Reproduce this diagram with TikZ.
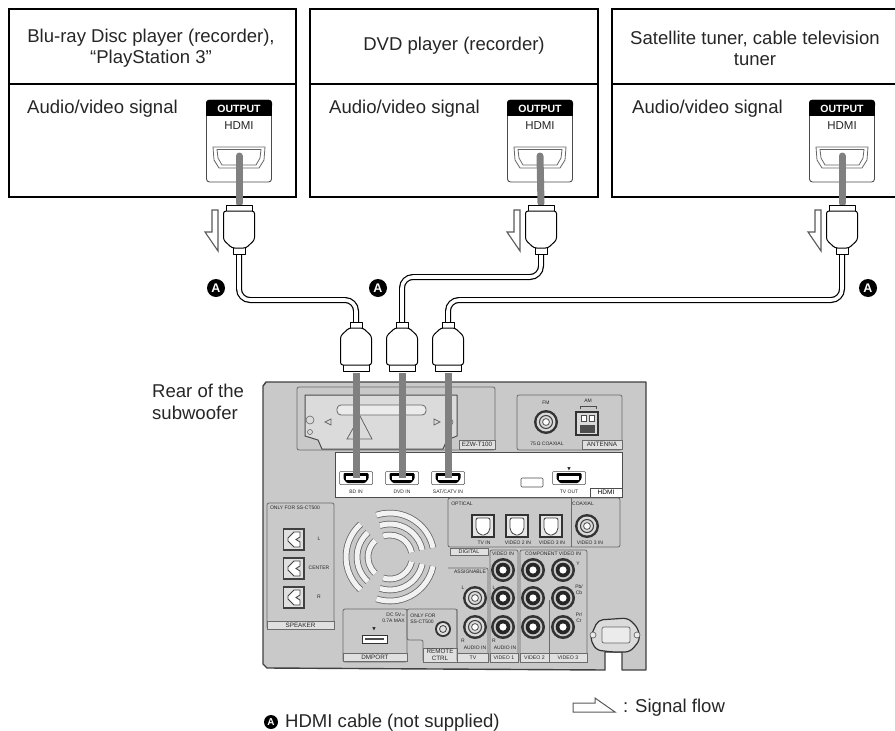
\documentclass[tikz,border=0pt]{standalone}
\usepackage{fontspec}
\setmainfont{Liberation Sans}
\newfontfamily\djv{DejaVu Sans}
\usetikzlibrary{calc}
\definecolor{panelgray}{gray}{0.79}
\definecolor{stubgray}{gray}{0.50}
\definecolor{linegray}{gray}{0.42}
\tikzset{
  devbox/.style={draw=black,line width=2.4pt,rectangle,inner sep=0pt,minimum height=188pt},
  divider/.style={draw=black,line width=1.4pt},
  bigtxt/.style={font=\fontsize{18.55}{21.3}\selectfont,text=black!85,align=center,inner sep=0pt},
  cable/.style={draw=black,line width=1.2pt,double=white,double distance=3.6pt,rounded corners=11pt},
  stub/.style={draw=stubgray,line width=7pt},
  plugline/.style={draw=black,line width=1pt,fill=white,line join=round},
  flowarrow/.style={draw=black!65,line width=1.1pt,fill=white,line join=miter},
  badgeA/.style={circle,fill=black,text=white,inner sep=0pt,minimum size=18pt,font=\fontsize{12.5}{12.5}\bfseries\selectfont},
  tiny/.style={font=\fontsize{5}{5.8}\selectfont,text=black!85,inner sep=0pt,align=center},
  region/.style={draw=linegray,line width=.8pt,rounded corners=2pt},
  tabbox/.style={draw=linegray,line width=.8pt,fill=black!12,inner sep=0pt,font=\fontsize{6.3}{6.6}\selectfont,text=black!85},
  vidtab/.style={tabbox,font=\fontsize{5.2}{5.2}\selectfont},
}
\newcommand\outbadge[2]{
  \begin{scope}[shift={(#2,0)}]
    \node[draw=black!70,line width=.9pt,fill=white,rounded corners=3pt,minimum width=65pt,minimum height=82pt,inner sep=0pt] (#1) at (0,141) {};
    \fill[black,rounded corners=3pt] (-33,100) rectangle (33,109);
    \fill[black] (-33,105) rectangle (33,116);
    \node[font=\fontsize{10.5}{10.5}\bfseries\selectfont,text=white,inner sep=0pt] (#1t) at (0,108.5) {OUTPUT};
    \node[font=\fontsize{11.5}{11.5}\selectfont,text=black!85,inner sep=0pt] (#1h) at (0,126) {HDMI};
    \draw[black!60,line width=.8pt,line join=round] (-26,147) -- (26,147) -- (25,160) -- (20,168) -- (-20,168) -- (-25,160) -- cycle;
    \draw[black!60,line width=.8pt,line join=round] (-22,149.5) -- (22,149.5) -- (21,158) -- (17,165) -- (-17,165) -- (-21,158) -- cycle;
    \coordinate (#1p) at (0,156);
  \end{scope}
}
\newcommand\hdmiplug[4]{
  \begin{scope}[shift={(#2,#3)},yscale=#4]
    \draw[plugline] (-13,0) -- (13,0) -- (13,7) -- (-13,7) -- cycle;
    \draw[plugline] (-6,41) rectangle (6,49);
    \draw[plugline,rounded corners=2.5pt] (-15.5,6) -- (15.5,6) -- (15.5,35) -- (7,43) -- (-7,43) -- (-15.5,35) -- cycle;
    \coordinate (#1top) at (0,0);
    \coordinate (#1neck) at (0,48);
  \end{scope}
}
\newcommand\sigarrow[1]{
  \draw[flowarrow] (#1,210) -- (#1+6,210) -- (#1+6,251) -- (#1-7,232) -- (#1,232) -- cycle;
}
\newcommand\hdmiport[4]{
  \node[inner sep=0pt,minimum width=33pt,minimum height=13pt,draw=black!70,line width=.5pt,fill=white,rounded corners=1pt] (#1) at (#2,#3) {};
  \fill[black,rounded corners=1pt] (#2-12.5,#3-5) -- (#2+12.5,#3-5) -- (#2+12.5,#3+1) -- (#2+9,#3+5) -- (#2-9,#3+5) -- (#2-12.5,#3+1) -- cycle;
  \fill[white] (#2-10,#3-2) rectangle (#2+10,#3+1.5);
  \node[tiny] (#1l) at (#2,#3+14) {#4};
}
\newcommand\optport[2]{
  \draw[black!80,line width=1.4pt,fill=black!10] (#1-11,515) rectangle (#1+11,537);
  \draw[black!75,line width=.8pt,fill=white,rounded corners=2pt] (#1-7,518) -- (#1+7,518) -- (#1+7,530) -- (#1+3,535) -- (#1-3,535) -- (#1-7,530) -- cycle;
  \node[tiny] at (#1+1,543) {#2};
}
\newcommand\rca[2]{
  \fill[black!80] (#1,#2) circle (12);
  \fill[black!22] (#1,#2) circle (9.3);
  \fill[black!85] (#1,#2) circle (7.3);
  \fill[white] (#1,#2) circle (3.6);
}
\newcommand\coax[2]{
  \fill[black!80] (#1,#2) circle (12);
  \fill[black!15] (#1,#2) circle (9.5);
  \draw[black!75,line width=1pt] (#1,#2) circle (6.5);
  \fill[white] (#1,#2) circle (3.4);
  \draw[black!75,line width=.7pt] (#1,#2) circle (3.4);
}
\newcommand\spkterm[2]{
  \draw[black!75,line width=1.5pt,fill=black!12] (283.5,#1) rectangle (304,#1+21);
  \fill[white] (288,#1+9) -- (294,#1+3) -- (300,#1+3) -- (300,#1+8) -- (296,#1+10.5) -- (300,#1+13) -- (300,#1+18) -- (294,#1+18) -- (288,#1+12) -- cycle;
  \draw[black!75,line width=.8pt] (288,#1+9) -- (294,#1+3) -- (300,#1+3) -- (300,#1+8) -- (296,#1+10.5) -- (300,#1+13) -- (300,#1+18) -- (294,#1+18) -- (288,#1+12) -- cycle;
  \node[tiny] at (319,#1+10) {#2};
}
\begin{document}
\begin{tikzpicture}[x=1pt,y=-1pt]
\useasboundingbox (0,0) rectangle (895,731);
% ---------- device boxes
\node[devbox,minimum width=287pt] (box1) at (152.5,103) {};
\node[devbox,minimum width=288pt] (box2) at (454,103) {};
\node[devbox,minimum width=290pt] (box3) at (757,103) {};
\coordinate (dv) at (0,84);
\draw[divider] (box1.west |- dv) -- (box1.east |- dv);
\draw[divider] (box2.west |- dv) -- (box2.east |- dv);
\draw[divider] (box3.west |- dv) -- (box3.east |- dv);
\node[bigtxt] (t1) at (151,48.5) {Blu-ray Disc player (recorder),\\“PlayStation 3”};
\node[bigtxt] (t2) at (454,46) {DVD player (recorder)};
\node[bigtxt] (t3) at (755,48.5) {Satellite tuner, cable television\\tuner};
\node[bigtxt,anchor=base west] (s1) at (27,113) {Audio/video signal};
\node[bigtxt,anchor=base west] (s2) at (329,113) {Audio/video signal};
\node[bigtxt,anchor=base west] (s3) at (632,113) {Audio/video signal};
\outbadge{o1}{239}
\outbadge{o2}{540}
\outbadge{o3}{842}
% ---------- rear panel
\draw[draw=black!75,line width=1.4pt,fill=panelgray,line join=round]
  (266,382) -- (646,382) -- (646,670) -- (622,670) -- (622,652) -- (605,652) -- (605,670)
  -- (267,668) -- (263,664) -- (263,386) -- cycle;
% EZW slot
\draw[region] (297,387) rectangle (495,450);
\draw[black!70,line width=1pt,fill=black!14,line join=round] (305,395) -- (457,395) -- (457,436) -- (447,440) -- (443,449) -- (322,449) -- (318,440) -- (305,436) -- cycle;
\draw[black!60,line width=.8pt,rounded corners=4pt,fill=black!8] (337,405) rectangle (426,415);
\draw[black!60,line width=.8pt] (360,416) -- (347,439) -- (372,439) -- cycle;
\draw[black!60,line width=.7pt] (331,419) -- (325,422) -- (331,425) -- cycle;
\draw[black!60,line width=.7pt] (434,419) -- (440,422) -- (434,425) -- cycle;
\draw[black!60,line width=.6pt] (310,420) circle (4) (310,432) circle (2.5) (450,422) circle (3);
\node[tabbox,minimum width=36pt,minimum height=9pt] (ezw) at (477,444.5) {EZW-T100};
% antenna
\draw[region] (517,395) rectangle (622,450);
\node[tiny] at (546,403) {FM};
\node[tiny] at (588,401) {AM};
\coax{546}{422}
\node[tiny] at (547,444) {75\,Ω COAXIAL};
\draw[black!80,line width=1.2pt,fill=black!15] (576,412) rectangle (598,435);
\fill[white] (581,415) rectangle (586,421) (589,415) rectangle (594,421);
\draw[black!70,line width=.6pt] (581,415) rectangle (586,421) (589,415) rectangle (594,421);
\fill[black!70] (580,425) rectangle (595,433);
\draw[black!70,line width=.6pt] (580,406) -- (580,409) (596,406) -- (596,409) (580,406) -- (596,406);
\node[tabbox,minimum width=40pt,minimum height=9pt] (ant) at (602,444.5) {ANTENNA};
% HDMI strip
\draw[black!70,line width=.7pt,fill=white] (335,452) rectangle (622,497);
\node[draw=black!70,line width=.7pt,fill=white,minimum width=32pt,minimum height=9pt,inner sep=0pt,font=\fontsize{6.5}{6.5}\selectfont] (htab) at (606,492.5) {HDMI};
\hdmiport{pbd}{356}{478}{BD IN}
\hdmiport{pdvd}{402}{478}{DVD IN}
\hdmiport{psat}{448}{478}{SAT/CATV IN}
\hdmiport{ptv}{569}{478}{TV OUT}
\node[tiny,font=\djv\fontsize{4.5}{5}\selectfont] at (569,469) {▼};
\draw[black!70,line width=.6pt,fill=white,rounded corners=1pt] (521,478) rectangle (543,487);
% speaker
\draw[region] (267,503) rectangle (334,629);
\node[tabbox,minimum width=67pt,minimum height=8pt] (spk) at (300.5,625) {SPEAKER};
\node[tiny] at (295,508) {ONLY FOR SS-CT500};
\spkterm{529}{L}
\spkterm{558}{CENTER}
\spkterm{587}{R}
% fan
\foreach \r in {44,33,22}{
  \foreach \a/\b in {12/108,132/228,252/348}{
    \draw[black!60,line width=.8pt,double=black!5,double distance=5pt] ([shift={(\a:\r)}]390,557) arc (\a:\b:\r);
  }
}
% DM port
\draw[region] (343,609) rectangle (407,662);
\node[tabbox,minimum width=64pt,minimum height=8.5pt] (dm) at (375,657.5) {DMPORT};
\node[tiny,align=right,anchor=east] at (405,618) {DC 5V\,{\fontsize{4}{4}\selectfont ═}\\0.7A MAX};
\node[tiny,font=\djv\fontsize{4.5}{5}\selectfont] at (374,629) {▼};
\draw[black!80,line width=1pt,fill=white] (362,635) rectangle (387,643);
\fill[black!70] (365,637.5) rectangle (384,640);
% remote
\draw[region] (407,609) -- (457,609) -- (457,662) -- (423,662) -- (423,640) -- (407,640) -- cycle;
\node[tiny,align=left] at (423,618.5) {ONLY FOR\\SS-CT500};
\fill[black!80] (443,629) circle (8);
\fill[black!12] (443,629) circle (6);
\draw[black!75,line width=.8pt] (443,629) circle (3.5);
\node[tabbox,minimum width=34pt,minimum height=14pt,align=center] (rem) at (440,655) {REMOTE\\CTRL};
% digital
\draw[region] (448,498) rectangle (620,547);
\draw[draw=linegray,line width=.8pt] (571,498) -- (571,547);
\node[tabbox,minimum width=38pt,minimum height=7pt,font=\fontsize{5.4}{5.4}\selectfont] (dg) at (469,551.5) {DIGITAL};
\node[tiny] at (462,504) {OPTICAL};
\node[tiny] at (583,504) {COAXIAL};
\optport{483}{TV IN}
\optport{517}{VIDEO 2 IN}
\optport{551}{VIDEO 3 IN}
\coax{587}{526}
\node[tiny] at (590,543) {VIDEO 3 IN};
% jack columns
\draw[region] (448,568) -- (488,568) -- (488,662) -- (457,662) -- (457,609) ;
\draw[region] (490,550) rectangle (518,662);
\draw[region] (520,550) rectangle (587,662);
\draw[draw=linegray,line width=.8pt] (549,600) -- (549,662);
\node[tiny] at (470,572) {ASSIGNABLE};
\node[tiny] at (503,554) {VIDEO IN};
\node[tiny] at (553,554) {COMPONENT VIDEO IN};
\coax{475}{598}
\coax{475}{627}
\foreach \x in {503,533,563}{ \rca{\x}{570} \rca{\x}{598} \rca{\x}{627} }
\node[tiny] at (463,588) {L};
\node[tiny] at (463,641) {R};
\node[tiny] at (494,588) {L};
\node[tiny] at (494,641) {R};
\node[tiny] at (475,648) {AUDIO IN};
\node[tiny] at (505,648) {AUDIO IN};
\node[tiny] at (578,564) {Y};
\node[tiny] at (579,590) {Pb/\\Cb};
\node[tiny] at (579,618) {Pr/\\Cr};
\node[vidtab,minimum width=31pt,minimum height=9pt] (ltv) at (473,657.5) {TV};
\node[vidtab,minimum width=28pt,minimum height=9pt] (lv1) at (504,657.5) {VIDEO 1};
\node[vidtab,minimum width=29pt,minimum height=9pt] (lv2) at (534.5,657.5) {VIDEO 2};
\node[vidtab,minimum width=38pt,minimum height=9pt] (lv3) at (568,657.5) {VIDEO 3};
% power inlet
\draw[black!80,line width=1.2pt,fill=black!14,line join=round,rounded corners=5pt] (598,620) -- (628,618) -- (638,628) -- (640,640) -- (630,652) -- (612,652) -- (596,650) -- (590,638) -- cycle;
\draw[black!60,line width=.7pt,fill=black!8,rounded corners=2pt] (602,627) rectangle (630,643);
\draw[black!60,line width=.7pt,fill=black!8] (593,635) circle (3) (637,635) circle (3);
% ---------- plug end points (fixed before the cables, which run under the plugs)
\coordinate (h1) at (0,300);
\coordinate (h2) at (0,277);
\coordinate (h3) at (0,300);
\coordinate (q1) at (239,250);
\coordinate (q2) at (541,250);
\coordinate (q3) at (842,250);
\coordinate (r1) at (356,325);
\coordinate (r2) at (402,325);
\coordinate (r3) at (448,325);
\draw[cable] (q1) -- (q1 |- h1) -- (r1 |- h1) -- (r1);
\draw[cable] (q2) -- (q2 |- h2) -- (r2 |- h2) -- (r2);
\draw[cable] (q3) -- (q3 |- h3) -- (r3 |- h3) -- (r3);
\draw[stub,line cap=round] (o1p) -- (239,203);
\draw[stub,line cap=round] (o2p) -- (541,203);
\draw[stub,line cap=round] (o3p) -- (842,203);
\hdmiplug{a1}{239}{205}{1}
\hdmiplug{a2}{541}{205}{1}
\hdmiplug{a3}{842}{205}{1}
\hdmiplug{b1}{356}{371}{-1}
\hdmiplug{b2}{402}{371}{-1}
\hdmiplug{b3}{448}{371}{-1}
\draw[stub] (b1top) ++(0,2) -- (pbd.center);
\draw[stub] (b2top) ++(0,2) -- (pdvd.center);
\draw[stub] (b3top) ++(0,2) -- (psat.center);
\sigarrow{212}
\sigarrow{514}
\sigarrow{815}
\node[badgeA] (la) at (216,288) {A};
\node[badgeA] (lb) at (378,288) {A};
\node[badgeA] (lc) at (868,288) {A};
% ---------- captions
\node[bigtxt,align=left,anchor=west] (rear) at (152,402) {Rear of the\\subwoofer};
\node[badgeA,minimum size=14pt,font=\fontsize{10}{10}\bfseries\selectfont] (ld) at (271,722) {A};
\node[bigtxt,anchor=base west] (hc) at (285,727) {HDMI cable (not supplied)};
\draw[flowarrow,line width=1pt] (573,703) -- (595,703) -- (595,698) -- (615,712) -- (573,712) -- cycle;
\node[bigtxt,anchor=base west] (sf) at (623,712) {: Signal flow};
\end{tikzpicture}
\end{document}
